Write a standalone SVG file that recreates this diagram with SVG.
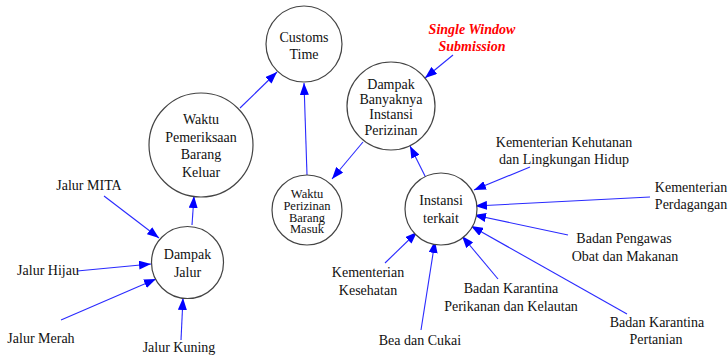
<svg xmlns="http://www.w3.org/2000/svg" width="728" height="355" viewBox="0 0 728 355">
<defs>
<marker id="ah" viewBox="0 0 12 9" refX="12" refY="4.5" markerWidth="12" markerHeight="9" orient="auto" markerUnits="userSpaceOnUse">
<path d="M0,0 L12,4.5 L0,9 z" fill="#0000ff"/>
</marker>
<style>
.n{fill:#fff;stroke:#444;stroke-width:1.2}
.t{font-family:"Liberation Serif","Times New Roman",serif;font-size:14px;fill:#111;text-anchor:middle}
.s{font-size:12.5px}
.c line{stroke:#2a2aff;stroke-width:1.1;marker-end:url(#ah)}
.r{font-family:"Liberation Serif","Times New Roman",serif;font-size:14px;font-weight:bold;font-style:italic;fill:#ff0000;text-anchor:middle}
</style>
</defs>
<rect width="728" height="355" fill="#fff"/>
<g class="c" id="connectors">
<line x1="240" y1="108" x2="277" y2="72"/>
<line x1="307" y1="175" x2="304" y2="83"/>
<line x1="363" y1="142" x2="332" y2="179"/>
<line x1="426" y1="178" x2="410" y2="146"/>
<line x1="453" y1="55" x2="425" y2="78"/>
<line x1="192" y1="225" x2="194" y2="196"/>
<line x1="104" y1="196" x2="159" y2="238"/>
<line x1="77" y1="271" x2="151" y2="264"/>
<line x1="61" y1="320" x2="156" y2="279"/>
<line x1="181" y1="340" x2="183" y2="298"/>
<line x1="530" y1="167" x2="474" y2="190"/>
<line x1="650" y1="197" x2="475" y2="206"/>
<line x1="568" y1="235" x2="474" y2="215"/>
<line x1="627" y1="314" x2="471" y2="226"/>
<line x1="498" y1="279" x2="462" y2="236"/>
<line x1="421" y1="330" x2="435" y2="241"/>
<line x1="385" y1="263" x2="417" y2="232"/>
</g>
<g id="customs-time"><circle class="n" cx="304" cy="44" r="38"/>
<text class="t" x="304" y="42">Customs</text><text class="t" x="304" y="59">Time</text></g>
<g id="waktu-pemeriksaan"><circle class="n" cx="201" cy="145" r="52"/>
<text class="t" x="201" y="124">Waktu</text><text class="t" x="201" y="142">Pemeriksaan</text><text class="t" x="201" y="159">Barang</text><text class="t" x="201" y="177">Keluar</text></g>
<g id="dampak-jalur"><circle class="n" cx="187.5" cy="262.5" r="36"/>
<text class="t" x="187.5" y="259">Dampak</text><text class="t" x="187.5" y="277">Jalur</text></g>
<g id="waktu-perizinan"><circle class="n" cx="307" cy="210" r="35"/>
<text class="t s" x="307" y="197.5">Waktu</text><text class="t s" x="307" y="209.5">Perizinan</text><text class="t s" x="307" y="221.5">Barang</text><text class="t s" x="307" y="233">Masuk</text></g>
<g id="dampak-banyaknya"><circle class="n" cx="391" cy="106" r="44"/>
<text class="t" x="391" y="89">Dampak</text><text class="t" x="391" y="104">Banyaknya</text><text class="t" x="391" y="119">Instansi</text><text class="t" x="391" y="135">Perizinan</text></g>
<g id="instansi-terkait"><circle class="n" cx="441" cy="209" r="36"/>
<text class="t" x="441" y="205">Instansi</text><text class="t" x="441" y="223">terkait</text></g>
<g id="single-window"><text class="r" x="472" y="34">Single Window</text><text class="r" x="472" y="51">Submission</text></g>
<g id="jalur-mita"><text class="t" x="89" y="190">Jalur MITA</text></g>
<g id="jalur-hijau"><text class="t" x="48" y="275">Jalur Hijau</text></g>
<g id="jalur-merah"><text class="t" x="41" y="343">Jalur Merah</text></g>
<g id="jalur-kuning"><text class="t" x="179" y="352">Jalur Kuning</text></g>
<g id="kementerian-kehutanan"><text class="t" x="564" y="147">Kementerian Kehutanan</text><text class="t" x="564" y="164">dan Lingkungan Hidup</text></g>
<g id="kementerian-perdagangan"><text class="t" x="691" y="192">Kementerian</text><text class="t" x="691" y="209">Perdagangan</text></g>
<g id="badan-pengawas"><text class="t" x="624" y="243">Badan Pengawas</text><text class="t" x="625" y="261">Obat dan Makanan</text></g>
<g id="badan-karantina-perikanan"><text class="t" x="511" y="293">Badan Karantina</text><text class="t" x="511" y="311">Perikanan dan Kelautan</text></g>
<g id="badan-karantina-pertanian"><text class="t" x="657" y="327">Badan Karantina</text><text class="t" x="656" y="344">Pertanian</text></g>
<g id="bea-cukai"><text class="t" x="420" y="345">Bea dan Cukai</text></g>
<g id="kementerian-kesehatan"><text class="t" x="368" y="277">Kementerian</text><text class="t" x="368" y="295">Kesehatan</text></g>
</svg>
